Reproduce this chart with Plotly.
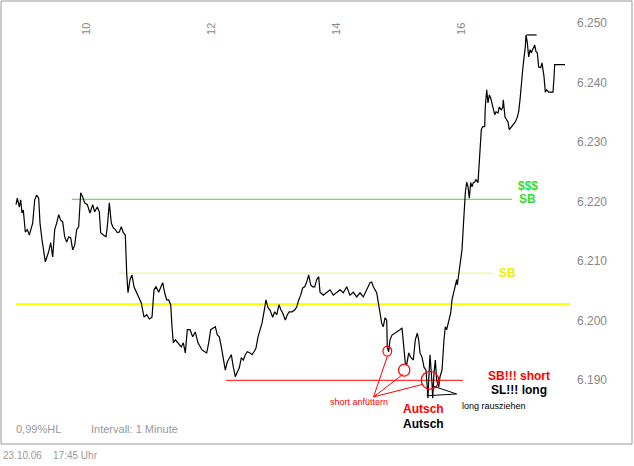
import plotly.graph_objects as go

hours = [8.880,8.901,8.933,8.955,8.976,8.997,9.029,9.061,9.093,9.115,9.147,9.179,9.211,9.243,9.264,9.296,9.317,9.349,9.403,9.435,9.467,9.499,9.531,9.563,9.595,9.627,9.659,9.691,9.723,9.755,9.787,9.819,9.851,9.883,9.915,9.947,9.979,
10.021,10.064,10.107,10.139,10.181,10.213,10.235,10.277,10.320,10.341,10.373,10.405,10.437,10.469,10.501,10.533,10.565,10.597,10.629,10.651,10.672,10.704,10.736,10.768,10.811,10.853,10.885,10.928,10.971,
11.013,11.056,11.088,11.120,11.163,11.195,11.227,11.259,11.291,11.323,11.355,11.376,11.397,11.429,11.461,11.493,11.525,11.557,11.589,11.621,11.664,11.707,11.749,11.792,11.824,11.856,11.899,11.931,11.963,11.995,
12.037,12.069,12.101,12.133,12.165,12.197,12.229,12.261,12.293,12.325,12.357,12.389,12.421,12.453,12.485,12.517,12.549,12.581,12.624,12.656,12.688,12.720,12.752,12.784,12.816,12.848,12.880,12.912,12.944,12.987,
13.019,13.051,13.088,13.120,13.147,13.189,13.221,13.253,13.296,13.339,13.371,13.403,13.435,13.467,13.499,13.531,13.563,13.595,13.627,13.659,13.691,13.723,13.744,13.797,13.851,13.904,13.957,
14.011,14.064,14.117,14.171,14.224,14.277,14.331,14.384,14.437,14.491,14.544,14.571,14.597,14.651,14.677,14.704,14.731,14.757,14.784,14.811,14.821,14.843,14.864,14.896,14.939,14.981,
15.024,15.056,15.077,15.109,15.131,15.163,15.195,15.237,15.269,15.301,15.323,15.344,15.376,15.408,15.440,15.472,15.483,15.504,15.536,15.547,15.568,15.589,15.611,15.643,15.664,15.696,15.728,15.749,15.771,15.803,15.835,15.856,15.888,15.909,15.931,15.941,15.968,15.995,
16.016,16.037,16.048,16.069,16.091,16.112,16.133,16.155,16.176,16.197,16.219,16.240,16.272,16.293,16.315,16.325,16.347,16.379,16.389,16.411,16.432,16.453,16.475,16.496,16.517,16.539,16.560,16.592,16.613,16.645,16.667,16.677,16.704,16.752,16.773,16.805,16.837,16.869,16.901,16.923,16.944,16.965,16.987,
17.008,17.029,17.040,17.061,17.083,17.104,17.125,17.157,17.179,17.200,17.221,17.243,17.275,17.296,17.328,17.349,17.371,17.403,17.424,17.472,17.488,17.499,17.664]

prices = [6.2195,6.2206,6.2191,6.2203,6.2181,6.2186,6.2149,6.2153,6.2144,6.2153,6.2164,6.2203,6.2211,6.2206,6.2164,6.2136,6.2119,6.2099,6.2116,6.2131,6.2107,6.2153,6.2164,6.2178,6.2169,6.2166,6.2141,6.2132,6.2141,6.2139,6.2119,6.2127,6.2153,6.2158,6.2215,6.2208,6.2198,
6.2195,6.2181,6.2195,6.2183,6.2191,6.2183,6.2148,6.2144,6.2141,6.2158,6.2198,6.2164,6.2156,6.2153,6.2148,6.2149,6.2158,6.2148,6.2144,6.2080,6.2047,6.2069,6.2077,6.2057,6.2047,6.2040,6.2030,6.2006,6.2010,
6.2003,6.2006,6.2052,6.2057,6.2048,6.2055,6.2064,6.2047,6.2035,6.2035,6.2027,6.1990,6.1963,6.1968,6.1964,6.1959,6.1956,6.1963,6.1946,6.1985,6.1985,6.1973,6.1981,6.1963,6.1956,6.1951,6.1948,6.1946,6.1963,6.1985,
6.1988,6.1990,6.1976,6.1973,6.1956,6.1934,6.1917,6.1931,6.1938,6.1943,6.1922,6.1906,6.1914,6.1921,6.1938,6.1934,6.1943,6.1948,6.1946,6.1943,6.1948,6.1954,6.1973,6.1985,6.1996,6.2015,6.2035,6.2022,6.2018,6.2006,
6.2015,6.2010,6.2027,6.2018,6.2013,6.2001,6.2010,6.2015,6.2015,6.2018,6.2023,6.2035,6.2043,6.2055,6.2057,6.2065,6.2077,6.2060,6.2057,6.2057,6.2069,6.2074,6.2048,6.2043,6.2047,6.2052,6.2043,
6.2047,6.2052,6.2047,6.2057,6.2043,6.2048,6.2040,6.2047,6.2040,6.2052,6.2064,6.2065,6.2057,6.2047,6.2030,6.2013,6.1996,6.1990,6.2005,6.2001,6.1956,6.1948,6.1968,6.1976,6.1979,6.1981,
6.1985,6.1988,6.1963,6.1929,6.1926,6.1946,6.1939,6.1934,6.1968,6.1979,6.1968,6.1946,6.1939,6.1922,6.1917,6.1870,6.1900,6.1943,6.1895,6.1870,6.1912,6.1934,6.1900,6.1889,6.1906,6.1917,6.1968,6.1990,6.1985,6.2001,6.2013,6.2035,6.2052,6.2057,6.2069,6.2060,6.2080,6.2097,
6.2119,6.2158,6.2186,6.2215,6.2233,6.2225,6.2206,6.2232,6.2225,6.2232,6.2233,6.2237,6.2232,6.2262,6.2304,6.2321,6.2326,6.2326,6.2359,6.2388,6.2366,6.2379,6.2374,6.2366,6.2354,6.2346,6.2351,6.2349,6.2359,6.2354,6.2358,6.2371,6.2342,6.2334,6.2321,6.2326,6.2329,6.2334,6.2342,6.2351,6.2371,6.2400,6.2421,
6.2442,6.2460,6.2480,6.2467,6.2443,6.2455,6.2450,6.2458,6.2463,6.2452,6.2450,6.2426,6.2425,6.2433,6.2410,6.2384,6.2388,6.2384,6.2384,6.2384,6.2408,6.2430,6.2430]

high_x = [17.05, 17.21]
high_y = [6.2480, 6.2480]

# horizontal levels: (price, start hour, end hour, colour, width)
level_prices = [6.2204, 6.2080, 6.2028, 6.1900]
level_start = [9.776, 10.528, 8.880, 12.240]
level_end = [16.816, 16.512, 17.744, 16.032]
level_colors = ["#33dd33", "#f0f080", "#ffff00", "#ff0000"]
level_widths = [1, 1, 2, 1]

x_ticks = [10, 12, 14, 16]
y_ticks = [6.250, 6.240, 6.230, 6.220, 6.210, 6.200, 6.190]

fig = go.Figure()
for p, s, e, c, w in zip(level_prices, level_start, level_end, level_colors, level_widths):
    fig.add_trace(go.Scatter(x=[s, e], y=[p, p], mode="lines", line=dict(color=c, width=w), hoverinfo="skip"))
fig.add_trace(go.Scatter(x=hours, y=prices, mode="lines", line=dict(color="black", width=1.2)))
fig.add_trace(go.Scatter(x=high_x, y=high_y, mode="lines", line=dict(color="black", width=1.2)))

shapes = []
def circ(h, p, rh, rp):
    shapes.append(dict(type="circle", xref="x", yref="y", x0=h-rh, x1=h+rh, y0=p-rp, y1=p+rp,
                       line=dict(color="red", width=1.2)))
circ(14.821, 6.1949, 0.07, 0.00085)
circ(15.091, 6.1917, 0.09, 0.0010)
circ(15.504, 6.1900, 0.14, 0.0015)
for (h, p) in [(14.821, 6.1940), (15.07, 6.1910), (15.38, 6.1893)]:
    shapes.append(dict(type="line", xref="x", yref="y", x0=14.60, y0=6.1872, x1=h, y1=p, line=dict(color="red", width=1)))
for (h, p) in [(15.45, 6.1874), (15.56, 6.1890)]:
    shapes.append(dict(type="line", xref="x", yref="y", x0=15.93, y0=6.1877, x1=h, y1=p, line=dict(color="black", width=1)))
shapes.append(dict(type="rect", xref="paper", yref="paper", x0=0, x1=1, y0=0, y1=1, line=dict(color="#999999", width=1)))

ann = []
F = "Liberation Sans, Arial, sans-serif"
for t in x_ticks:
    ann.append(dict(x=t, y=0.955, xref="x", yref="paper", text=str(t), textangle=-90, showarrow=False,
                    font=dict(family=F, size=11, color="#888888")))
for v in y_ticks:
    ann.append(dict(x=0.963, y=v, xref="paper", yref="y", text=f"{v:.3f}", showarrow=False,
                    font=dict(family=F, size=12, color="#888888")))
def txt(h, p, s, c, size=12, bold=True):
    ann.append(dict(x=h, y=p, xref="x", yref="y", text=f"<b>{s}</b>" if bold else s, showarrow=False,
                    font=dict(family=F, size=size, color=c)))
txt(17.07, 6.2226, "$$$", "#33dd33")
txt(17.07, 6.2204, "SB", "#33dd33")
txt(16.74, 6.2081, "SB", "#eeee00")
txt(16.92, 6.1908, "SB!!! short", "red")
txt(16.92, 6.1883, "SL!!! long", "black")
txt(15.40, 6.1852, "Autsch", "red")
txt(15.40, 6.1827, "Autsch", "black")
txt(14.37, 6.1863, "short anfüttern", "red", 9, False)
txt(16.52, 6.1856, "long rausziehen", "black", 9, False)
ann.append(dict(x=0.02, y=0.015, xref="paper", yref="paper", xanchor="left", yanchor="bottom", text="0,99%HL",
                showarrow=False, font=dict(family=F, size=11, color="#999999")))
ann.append(dict(x=0.14, y=0.015, xref="paper", yref="paper", xanchor="left", yanchor="bottom", text="Intervall: 1 Minute",
                showarrow=False, font=dict(family=F, size=11, color="#999999")))
ann.append(dict(x=0.0, y=-0.008, xref="paper", yref="paper", xanchor="left", yanchor="top", text="23.10.06    17:45 Uhr",
                showarrow=False, font=dict(family=F, size=10, color="#999999")))

fig.update_layout(width=634, height=466, margin=dict(l=1, r=2, t=1, b=22), showlegend=False,
                  plot_bgcolor="white", paper_bgcolor="white", shapes=shapes, annotations=ann)
fig.update_xaxes(range=[8.640, 18.736], showgrid=False, zeroline=False, showticklabels=False, ticks="")
fig.update_yaxes(range=[6.1793, 6.2537], showgrid=False, zeroline=False, showticklabels=False, ticks="")
fig.write_html("out.html", config={"displayModeBar": False},
               post_script="document.body.style.margin='0';document.body.style.overflow='hidden';")
